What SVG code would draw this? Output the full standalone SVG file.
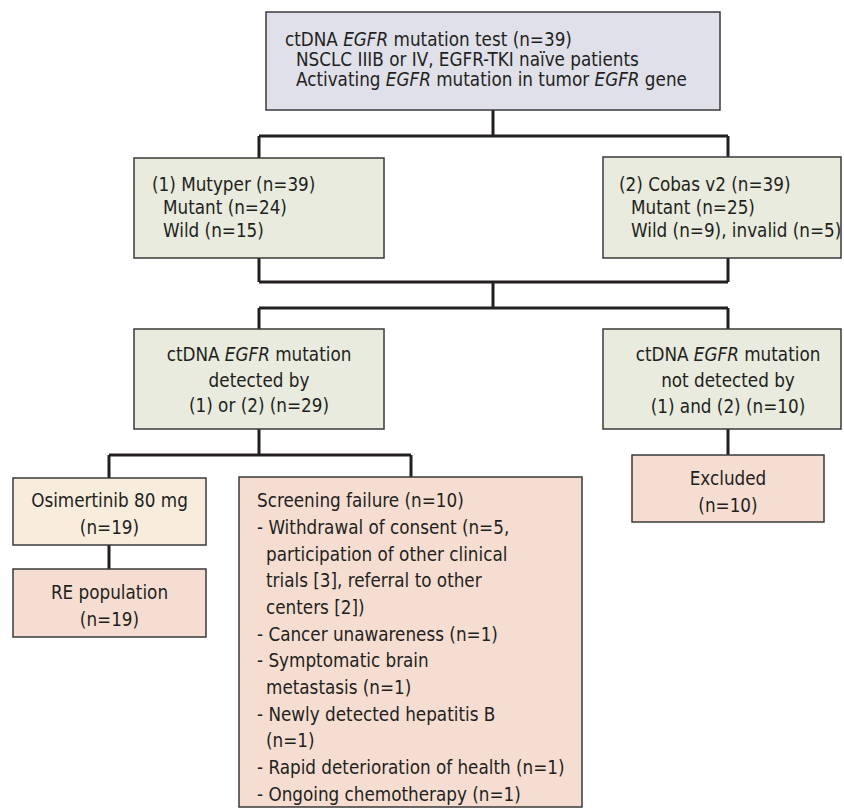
<svg xmlns="http://www.w3.org/2000/svg" width="844" height="812" viewBox="0 0 844 812">
<style>
text{font-family:"DejaVu Sans Condensed","Liberation Sans Narrow","Liberation Sans",sans-serif;font-size:18.7px;fill:#231f20}
.c{text-anchor:middle}
.i{font-style:italic}
.box{stroke:#3a3a3a;stroke-width:1.5}
.lav{fill:#dfe0ea}
.grn{fill:#e8ebdd}
.crm{fill:#f8ecdd}
.pnk{fill:#f6ddd2}
#connectors path{fill:none;stroke:#231f20;stroke-width:3}
</style>
<rect width="844" height="812" fill="#ffffff"/>
<g id="connectors">
<path d="M493,110V136M259,136H728M259,136V158M728,136V157"/>
<path d="M259,258V282M728,258V282M259,282H728M493,282V308M259,308H728M259,308V329M728,308V329"/>
<path d="M259,429V455M109,455H411M109,455V478M411,455V477"/>
<path d="M109,545V569"/>
<path d="M728,429V455"/>
</g>
<g id="n-top">
<rect class="box lav" x="266" y="12" width="454" height="98"/>
<text x="285" y="46">ctDNA <tspan class="i">EGFR</tspan> mutation test (n=39)</text>
<text x="296" y="66">NSCLC IIIB or IV, EGFR-TKI naïve patients</text>
<text x="296" y="86">Activating <tspan class="i">EGFR</tspan> mutation in tumor <tspan class="i">EGFR</tspan> gene</text>
</g>
<g id="n-mutyper">
<rect class="box grn" x="134" y="158" width="250" height="100"/>
<text x="152" y="191">(1) Mutyper (n=39)</text>
<text x="163" y="214">Mutant (n=24)</text>
<text x="163" y="237">Wild (n=15)</text>
</g>
<g id="n-cobas">
<rect class="box grn" x="603" y="157" width="238" height="101"/>
<text x="619" y="191">(2) Cobas v2 (n=39)</text>
<text x="631" y="214">Mutant (n=25)</text>
<text x="631" y="237">Wild (n=9), invalid (n=5)</text>
</g>
<g id="n-detected">
<rect class="box grn" x="134" y="329" width="250" height="100"/>
<text class="c" x="259" y="361">ctDNA <tspan class="i">EGFR</tspan> mutation</text>
<text class="c" x="259" y="387">detected by</text>
<text class="c" x="259" y="412">(1) or (2) (n=29)</text>
</g>
<g id="n-notdetected">
<rect class="box grn" x="603" y="329" width="238" height="100"/>
<text class="c" x="728" y="361">ctDNA <tspan class="i">EGFR</tspan> mutation</text>
<text class="c" x="728" y="387">not detected by</text>
<text class="c" x="728" y="413">(1) and (2) (n=10)</text>
</g>
<g id="n-excluded">
<rect class="box pnk" x="632" y="455" width="192" height="67"/>
<text class="c" x="728" y="485">Excluded</text>
<text class="c" x="728" y="512">(n=10)</text>
</g>
<g id="n-osimertinib">
<rect class="box crm" x="13" y="478" width="193" height="67"/>
<text class="c" x="109.5" y="507">Osimertinib 80 mg</text>
<text class="c" x="109.5" y="534">(n=19)</text>
</g>
<g id="n-re">
<rect class="box pnk" x="13" y="569" width="193" height="68"/>
<text class="c" x="109.5" y="599">RE population</text>
<text class="c" x="109.5" y="626">(n=19)</text>
</g>
<g id="n-screening">
<rect class="box pnk" x="239" y="477" width="343" height="330"/>
<text x="257" y="507">Screening failure (n=10)</text>
<text x="257" y="533.5">- Withdrawal of consent (n=5,</text>
<text x="266" y="560.5">participation of other clinical</text>
<text x="266" y="587">trials [3], referral to other</text>
<text x="266" y="614">centers [2])</text>
<text x="257" y="640.5">- Cancer unawareness (n=1)</text>
<text x="257" y="667">- Symptomatic brain</text>
<text x="266" y="694">metastasis (n=1)</text>
<text x="257" y="720.5">- Newly detected hepatitis B</text>
<text x="266" y="747">(n=1)</text>
<text x="257" y="774">- Rapid deterioration of health (n=1)</text>
<text x="257" y="801">- Ongoing chemotherapy (n=1)</text>
</g>
</svg>
